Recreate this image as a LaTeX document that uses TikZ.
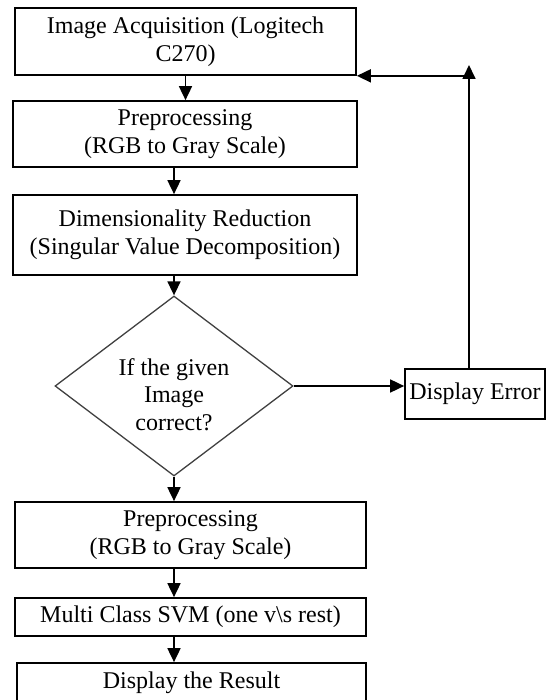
\documentclass[tikz,border=0pt]{standalone}
\usepackage{fontspec}
\setmainfont{Liberation Serif}
\usetikzlibrary{shapes.geometric,arrows.meta}
\begin{document}
\begin{tikzpicture}[x=1pt,y=-1pt,
  box/.style={draw=black, line width=1.7pt, rectangle, align=center, inner sep=0pt, font=\fontsize{24}{28}\selectfont},
  decision/.style={draw=black!75, line width=1.3pt, diamond, minimum width=238pt, minimum height=180pt, inner sep=0pt, font=\fontsize{24}{27.5}\selectfont},
  arr/.style={line width=1.7pt, -{Triangle[length=14pt,width=13pt]}}]
\useasboundingbox (0,0) rectangle (549,700);
\clip (0,0) rectangle (549,700);

\node[box, minimum width=341pt, minimum height=67pt] (b1) at (185.5,41.5) {Image Acquisition (Logitech\\C270)};
\node[box, minimum width=344pt, minimum height=66pt] (b2) at (185,134) {Preprocessing\\(RGB to Gray Scale)};
\node[box, minimum width=344pt, minimum height=80pt] (b3) at (185,235) {Dimensionality Reduction\\(Singular Value Decomposition)};
\node[decision] (d) at (174,386) {\raisebox{-17.5pt}[0pt][0pt]{\begin{tabular}{@{}c@{}}If the given\\Image\\correct?\end{tabular}}};
\node[box, minimum width=140pt, minimum height=50pt] (de) at (475,394) {Display Error};
\node[box, minimum width=351pt, minimum height=66pt] (b4) at (190.5,535) {Preprocessing\\(RGB to Gray Scale)};
\node[box, minimum width=351pt, minimum height=38pt] (b5) at (190.5,617) {Multi Class SVM (one v\textbackslash s rest)};
\node[box, minimum width=349pt, minimum height=40pt] (b6) at (191.5,683) {Display the Result};

\draw[arr] (b1.south) -- (b1.south |- b2.north);
\draw[arr] (d.north |- b2.south) -- (d.north |- b3.north);
\draw[arr] (d.north |- b3.south) -- (d.north);
\draw[arr] (d.east) -- (d.east -| de.west);
\draw[arr] (d.south) -- (d.south |- b4.north);
\draw[arr] (d.south |- b4.south) -- (d.south |- b5.north);
\draw[arr] (d.south |- b5.south) -- (d.south |- b6.north);
\coordinate (fb) at (469,65);
\draw[arr] (de.north -| fb) -- (fb);
\draw[arr] (fb |- b1.south east) -- (b1.south east);
\end{tikzpicture}
\end{document}
